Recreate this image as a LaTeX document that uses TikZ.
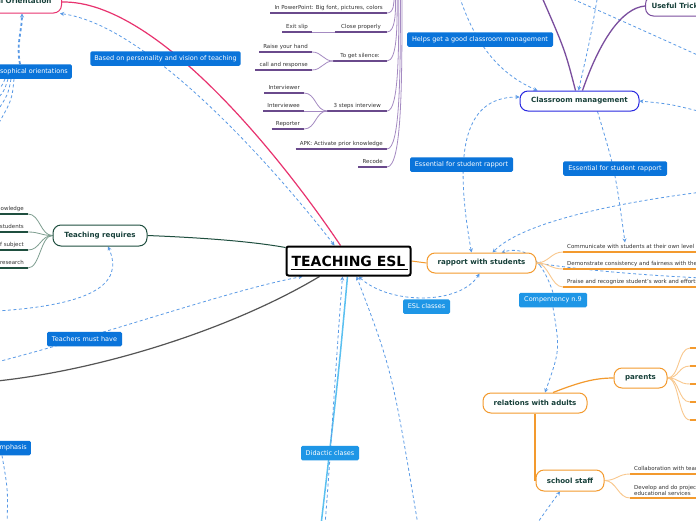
\documentclass[tikz,border=0pt]{standalone}
\usepackage{fontspec}
\setmainfont{DejaVu Sans}
\usetikzlibrary{arrows.meta}
\pgfdeclarelayer{background}
\pgfsetlayers{background,main}
\definecolor{lblue}{HTML}{0A74DA}
\definecolor{lbluetwo}{HTML}{1E96E6}
\definecolor{dashc}{HTML}{5A9AE6}
\definecolor{pinkc}{HTML}{E8336F}
\definecolor{purpc}{HTML}{6A4A8C}
\definecolor{purpl}{HTML}{A58BC2}
\definecolor{purpm}{HTML}{7A4E9E}
\definecolor{dgreen}{HTML}{1F4F3F}
\definecolor{lgreen}{HTML}{7E9E90}
\definecolor{txtg}{HTML}{17403A}
\definecolor{orng}{HTML}{F39A2E}
\definecolor{lorng}{HTML}{F9C88E}
\definecolor{cmblue}{HTML}{2828E0}
\definecolor{skyb}{HTML}{5AC0F0}
\definecolor{greyl}{HTML}{555555}
\definecolor{itemtxt}{HTML}{333333}
\begin{document}
\begin{tikzpicture}[x=1pt,y=-1pt,
  lbl/.style={fill=lblue, text=white, rounded corners=1.5pt, font=\fontsize{6.5}{7}\selectfont, inner xsep=4pt, inner ysep=0pt, minimum height=14.5pt},
  lbltwo/.style={lbl, fill=lbluetwo},
  topic/.style={draw, fill=white, rounded corners=8pt, line width=1pt, font=\bfseries\fontsize{7.1}{8}\selectfont, text=txtg, minimum height=20pt, inner xsep=6pt},
  item/.style={font=\fontsize{5.5}{6.7}\selectfont, text=itemtxt, inner xsep=4pt, inner ysep=2pt, text height=4pt, text depth=1.2pt},
  itemml/.style={font=\fontsize{5.5}{6.7}\selectfont, text=itemtxt, inner xsep=4pt, inner ysep=2pt, align=left},
  rel/.style={draw=dashc, dash pattern=on 3pt off 2.5pt, line width=0.8pt},
  arrowend/.style={-{Stealth[length=4pt,width=4pt]}},
  arrowboth/.style={{Stealth[length=4pt,width=4pt]}-{Stealth[length=4pt,width=4pt]}},
  purpul/.style={draw=purpc, line width=1.4pt},
  purpcon/.style={draw=purpl, line width=0.8pt},
  orul/.style={draw=orng, line width=1.4pt},
  orcon/.style={draw=lorng, line width=0.9pt},
  grul/.style={draw=dgreen, line width=1.4pt},
  grcon/.style={draw=lgreen, line width=0.8pt}
]
\useasboundingbox (0,0) rectangle (696,520);
\clip (0,0) rectangle (696,520);

% ---------- free ends ----------
\coordinate (ph1) at (-4,128);
\coordinate (ph2) at (-6,116);
\coordinate (ph3) at (-8,104);
\coordinate (ph4) at (-8,94);
\coordinate (g0) at (-3,381);
\coordinate (g1) at (-3,362);
\coordinate (g2) at (-3,311);
\coordinate (d0) at (325,525);
\coordinate (d1) at (321,525);
\coordinate (d2) at (418,525);
\coordinate (em0) at (7,525);
\coordinate (ss0) at (536,525);
\coordinate (hh0) at (458,-8);
\coordinate (cc0) at (598,-6);
\coordinate (tt0) at (568,-3);
\coordinate (tt1) at (702,57);
\coordinate (rr1) at (702,112);
\coordinate (rr2) at (702,192);
\coordinate (rr3) at (702,278);
\coordinate (u0) at (541,-5);
\coordinate (b1) at (394,-3);
\coordinate (b2) at (395.6,-3);
\coordinate (b3) at (397.2,-3);
\coordinate (b4) at (398.8,-3);
\coordinate (b5) at (400.4,-3);
\coordinate (b6) at (402,-3);
\coordinate (pe1) at (690,348);
\coordinate (pe2) at (690,366);
\coordinate (pe3) at (690,384);
\coordinate (pe4) at (690,402);
\coordinate (pe5) at (690,420);

% ---------- main topics ----------
\node[draw=black, line width=2pt, fill=white, rounded corners=2pt, minimum width=124pt, minimum height=29pt, font=\bfseries\fontsize{14}{16}\selectfont] (esl) at (348.5,261) {TEACHING ESL};
\draw[line width=1.6pt] ([xshift=5pt,yshift=7pt]esl.south west) -- ([xshift=-4pt,yshift=7pt]esl.south east);

\node[topic, draw=pinkc, anchor=east, minimum height=22pt, inner xsep=10pt] (orient) at (62,2) {Philosophical Orientation};
\node[topic, draw=purpm, anchor=west] (useful) at (645,6) {Useful Tricks};
\node[topic, draw=cmblue, minimum width=119pt] (cm) at (579.5,101) {Classroom management};
\node[topic, draw=orng, minimum width=109pt] (rapport) at (481.5,263) {rapport with students};
\node[topic, draw=orng, minimum width=104pt] (relations) at (535,403) {relations with adults};
\node[topic, draw=orng, minimum width=53pt] (parents) at (640.5,378) {parents};
\node[topic, draw=orng, minimum width=68pt, minimum height=21pt] (staff) at (570,480.5) {school staff};
\node[topic, draw=dgreen, minimum width=94pt, minimum height=21pt] (treq) at (100,235.5) {Teaching requires};

% ---------- labels ----------
\node[lbl, minimum width=149pt] (lbasis) at (165.5,58.5) {Based on personality and vision of teaching};
\node[lbl, anchor=east] (lphilo) at (72,71.5) {Philosophical orientations};
\node[lbl, minimum width=146pt] (lhelps) at (480,39.5) {Helps get a good classroom management};
\node[lbl, minimum width=103pt] (less1) at (461.5,164.5) {Essential for student rapport};
\node[lbl, minimum width=104pt] (less2) at (615,168.5) {Essential for student rapport};
\node[lbltwo, minimum width=47pt] (lesl) at (426.5,306.5) {ESL classes};
\node[lbltwo, minimum width=68pt] (lcomp) at (553,300) {Compentency n.9};
\node[lbl, minimum width=75pt] (lteach) at (84.5,339) {Teachers must have};
\node[lbl, anchor=east] (lemph) at (31,448) {Emphasis};
\node[lbltwo, minimum width=58pt] (ldid) at (330,453) {Didactic clases};

% ---------- useful tricks items ----------
\node[item, anchor=south east] (ppt) at (387,13) {In PowerPoint: Big font, pictures, colors};
\node[item, anchor=south east, inner xsep=6pt] (close) at (387,32) {Close properly};
\node[item, anchor=south east] (exit) at (312,32) {Exit slip};
\node[item, anchor=south east, inner xsep=7pt] (silence) at (387,61) {To get silence:};
\node[item, anchor=south east] (raise) at (312,52) {Raise your hand};
\node[item, anchor=south east] (call) at (312,70) {call and response};
\node[item, anchor=south east, inner xsep=6pt] (steps) at (387,111) {3 steps interview};
\node[item, anchor=south east] (iwer) at (304,93) {Interviewer};
\node[item, anchor=south east] (iwee) at (304,111) {Interviewee};
\node[item, anchor=south east] (report) at (304,129) {Reporter};
\node[item, anchor=south east] (apk) at (387,149) {APK: Activate prior knowledge};
\node[item, anchor=south east] (recode) at (387,167) {Recode};

% ---------- teaching requires items ----------
\node[item, anchor=south east] (rq1) at (28,214) {Pedagogical knowledge};
\node[item, anchor=south east] (rq2) at (28,232) {Knowledge of students};
\node[item, anchor=south east] (rq3) at (28,250) {Mastery of subject};
\node[item, anchor=south east] (rq4) at (28,268) {Ongoing research};

% ---------- rapport items ----------
\node[item, anchor=south west] (comm) at (563,252) {Communicate with students at their own level};
\node[item, anchor=south west] (demo) at (563,269) {Demonstrate consistency and fairness with the students};
\node[item, anchor=south west] (praise) at (563,287) {Praise and recognize student’s work and efforts};

% ---------- school staff items ----------
\node[item, anchor=south west] (collab) at (630,474) {Collaboration with teachers};
\node[itemml, anchor=south west] (develop) at (630,498) {Develop and do projects with\\educational services};

\begin{pgfonlayer}{background}
\fill[white] (0,0) rectangle (696,520);

% pink branch
\draw[pinkc, line width=1.2pt] ([xshift=-8]esl.north) .. controls (290,170) and (160,0) .. (orient.east);
\draw[rel, arrowboth] ([xshift=-14]esl.north) .. controls (280,175) and (150,25) .. ([xshift=-2]orient.south east);
\draw[rel, line width=1.8pt, arrowend] ([xshift=-52]lphilo.north east) .. controls (16,45) and (22,30) .. ([xshift=-40]orient.south east);
\draw[rel] ([xshift=-58]lphilo.south east) .. controls (12,100) .. (ph1);
\draw[rel] ([xshift=-61]lphilo.south east) .. controls (8,95) .. (ph2);
\draw[rel] ([xshift=-64]lphilo.south east) .. controls (4,92) .. (ph3);
\draw[rel] ([xshift=-67]lphilo.south east) .. controls (1,88) .. (ph4);

% teaching requires
\draw[dgreen, line width=1pt] (treq.east) .. controls (210,238) and (255,242) .. ([yshift=-2]esl.north west);
\draw[rel, arrowend] (g2) .. controls (90,305) and (125,285) .. ([xshift=8]treq.south);
\foreach \n in {rq1,rq2,rq3,rq4}{
  \draw[grul] (\n.south west) -- (\n.south east);
  \draw[grcon] (\n.south east) .. controls +(12,0) and +(-12,0) .. (treq.west);
}

% teachers must have, grey line
\draw[rel, arrowend] (g1) .. controls (120,330) and (230,290) .. ([xshift=-46]esl.south);
\draw[greyl, line width=1.2pt] ([xshift=-29]esl.south) .. controls (230,330) and (100,370) .. (g0);

% didactic
\draw[skyb, line width=1.5pt] ([xshift=-1]esl.south) .. controls (338,380) .. (d1);
\draw[rel, arrowend] (d0) .. controls (331,450) and (336,360) .. ([xshift=-6]esl.south);
\draw[rel, arrowend] (d2) .. controls (392,370) .. ([xshift=8]esl.south);

% emphasis
\draw[rel] ([xshift=-29]lemph.south east) .. controls (8,490) .. (em0);

% rapport
\draw[orng, line width=1pt] (esl.east) -- (rapport.west);
\draw[rel, arrowboth] ([xshift=10]esl.south) .. controls (390,305) and (460,305) .. ([xshift=-2]rapport.south);
\draw[rel, arrowboth] ([xshift=-10]rapport.north) .. controls (455,160) and (460,97) .. ([yshift=4]cm.west);
\draw[rel, arrowend] (rr2) .. controls (600,205) and (520,225) .. ([xshift=11]rapport.north);
\draw[rel, arrowend] (rr3) .. controls (620,274) and (570,268) .. (rapport.east);
\draw[rel, arrowend] (lcomp.north) .. controls (543,262) and (527,245) .. ([xshift=20]rapport.north);
\draw[rel, arrowend] (lcomp.south) .. controls (560,350) .. ([xshift=10]relations.north);
\foreach \n in {comm,demo,praise}{
  \draw[orul] (\n.south west) -- (\n.south east);
  \draw[orcon] (rapport.east) .. controls +(12,0) and +(-12,0) .. (\n.south west);
}

% classroom management
\draw[rel, arrowend] ([xshift=18]cm.south) .. controls (615,170) .. ([xshift=62]comm.north west);
\draw[rel, arrowend] (hh0) .. controls (470,30) and (490,70) .. ([xshift=-42]cm.north);
\draw[rel, arrowend] (cc0) .. controls (590,40) .. ([xshift=-1]cm.north);
\draw[rel] (tt0) .. controls (620,20) .. (tt1);
\draw[rel, arrowend] (rr1) .. controls (670,104) .. (cm.east);
\draw[purpm, line width=1.3pt] ([xshift=-4]cm.north) .. controls (565,50) .. (u0);
\draw[purpm, line width=1.3pt] ([xshift=3]cm.north) .. controls (600,40) and (622,8) .. (useful.west);

% useful tricks list
\foreach \n in {ppt,close,exit,silence,raise,call,steps,iwer,iwee,report,apk,recode}{
  \draw[purpul] (\n.south west) -- (\n.south east);
}
\draw[purpcon] (ppt.south east) .. controls +(7,0) and +(0,6) .. (b1);
\draw[purpcon] (close.south east) .. controls +(8.6,0) and +(0,15) .. (b2);
\draw[purpcon] (silence.south east) .. controls +(10.2,0) and +(0,30) .. (b3);
\draw[purpcon] (steps.south east) .. controls +(11.8,0) and +(0,55) .. (b4);
\draw[purpcon] (apk.south east) .. controls +(13.4,0) and +(0,75) .. (b5);
\draw[purpcon] (recode.south east) .. controls +(15,0) and +(0,85) .. (b6);
\draw[purpcon] (exit.south east) .. controls +(12,0) and +(-12,0) .. (close.south west);
\draw[purpcon] (raise.south east) .. controls +(10,0) and +(-10,0) .. (silence.south west);
\draw[purpcon] (call.south east) .. controls +(10,0) and +(-10,0) .. (silence.south west);
\draw[purpcon] (iwer.south east) .. controls +(12,0) and +(-12,0) .. (steps.south west);
\draw[purpcon] (iwee.south east) -- (steps.south west);
\draw[purpcon] (report.south east) .. controls +(12,0) and +(-12,0) .. (steps.south west);

% relations with adults
\draw[orng, line width=1.2pt] ([xshift=18]relations.north) .. controls (580,382) and (595,378) .. (parents.west);
\draw[orng, line width=1.2pt] (relations.south) -- (relations.south |- staff.west);
\foreach \c in {pe1,pe2,pe3,pe4,pe5}{
  \draw[orcon] (parents.east) .. controls +(12,0) and +(-12,0) .. (\c);
  \draw[orul] (\c) -- +(12,0);
}
\draw[rel, arrowend] (ss0) .. controls (550,505) .. ([xshift=-10]staff.south);
\foreach \n in {collab,develop}{
  \draw[orul] (\n.south west) -- (\n.south east);
  \draw[orcon] (staff.east) .. controls +(12,0) and +(-12,0) .. (\n.south west);
}
\end{pgfonlayer}
\end{tikzpicture}
\end{document}
